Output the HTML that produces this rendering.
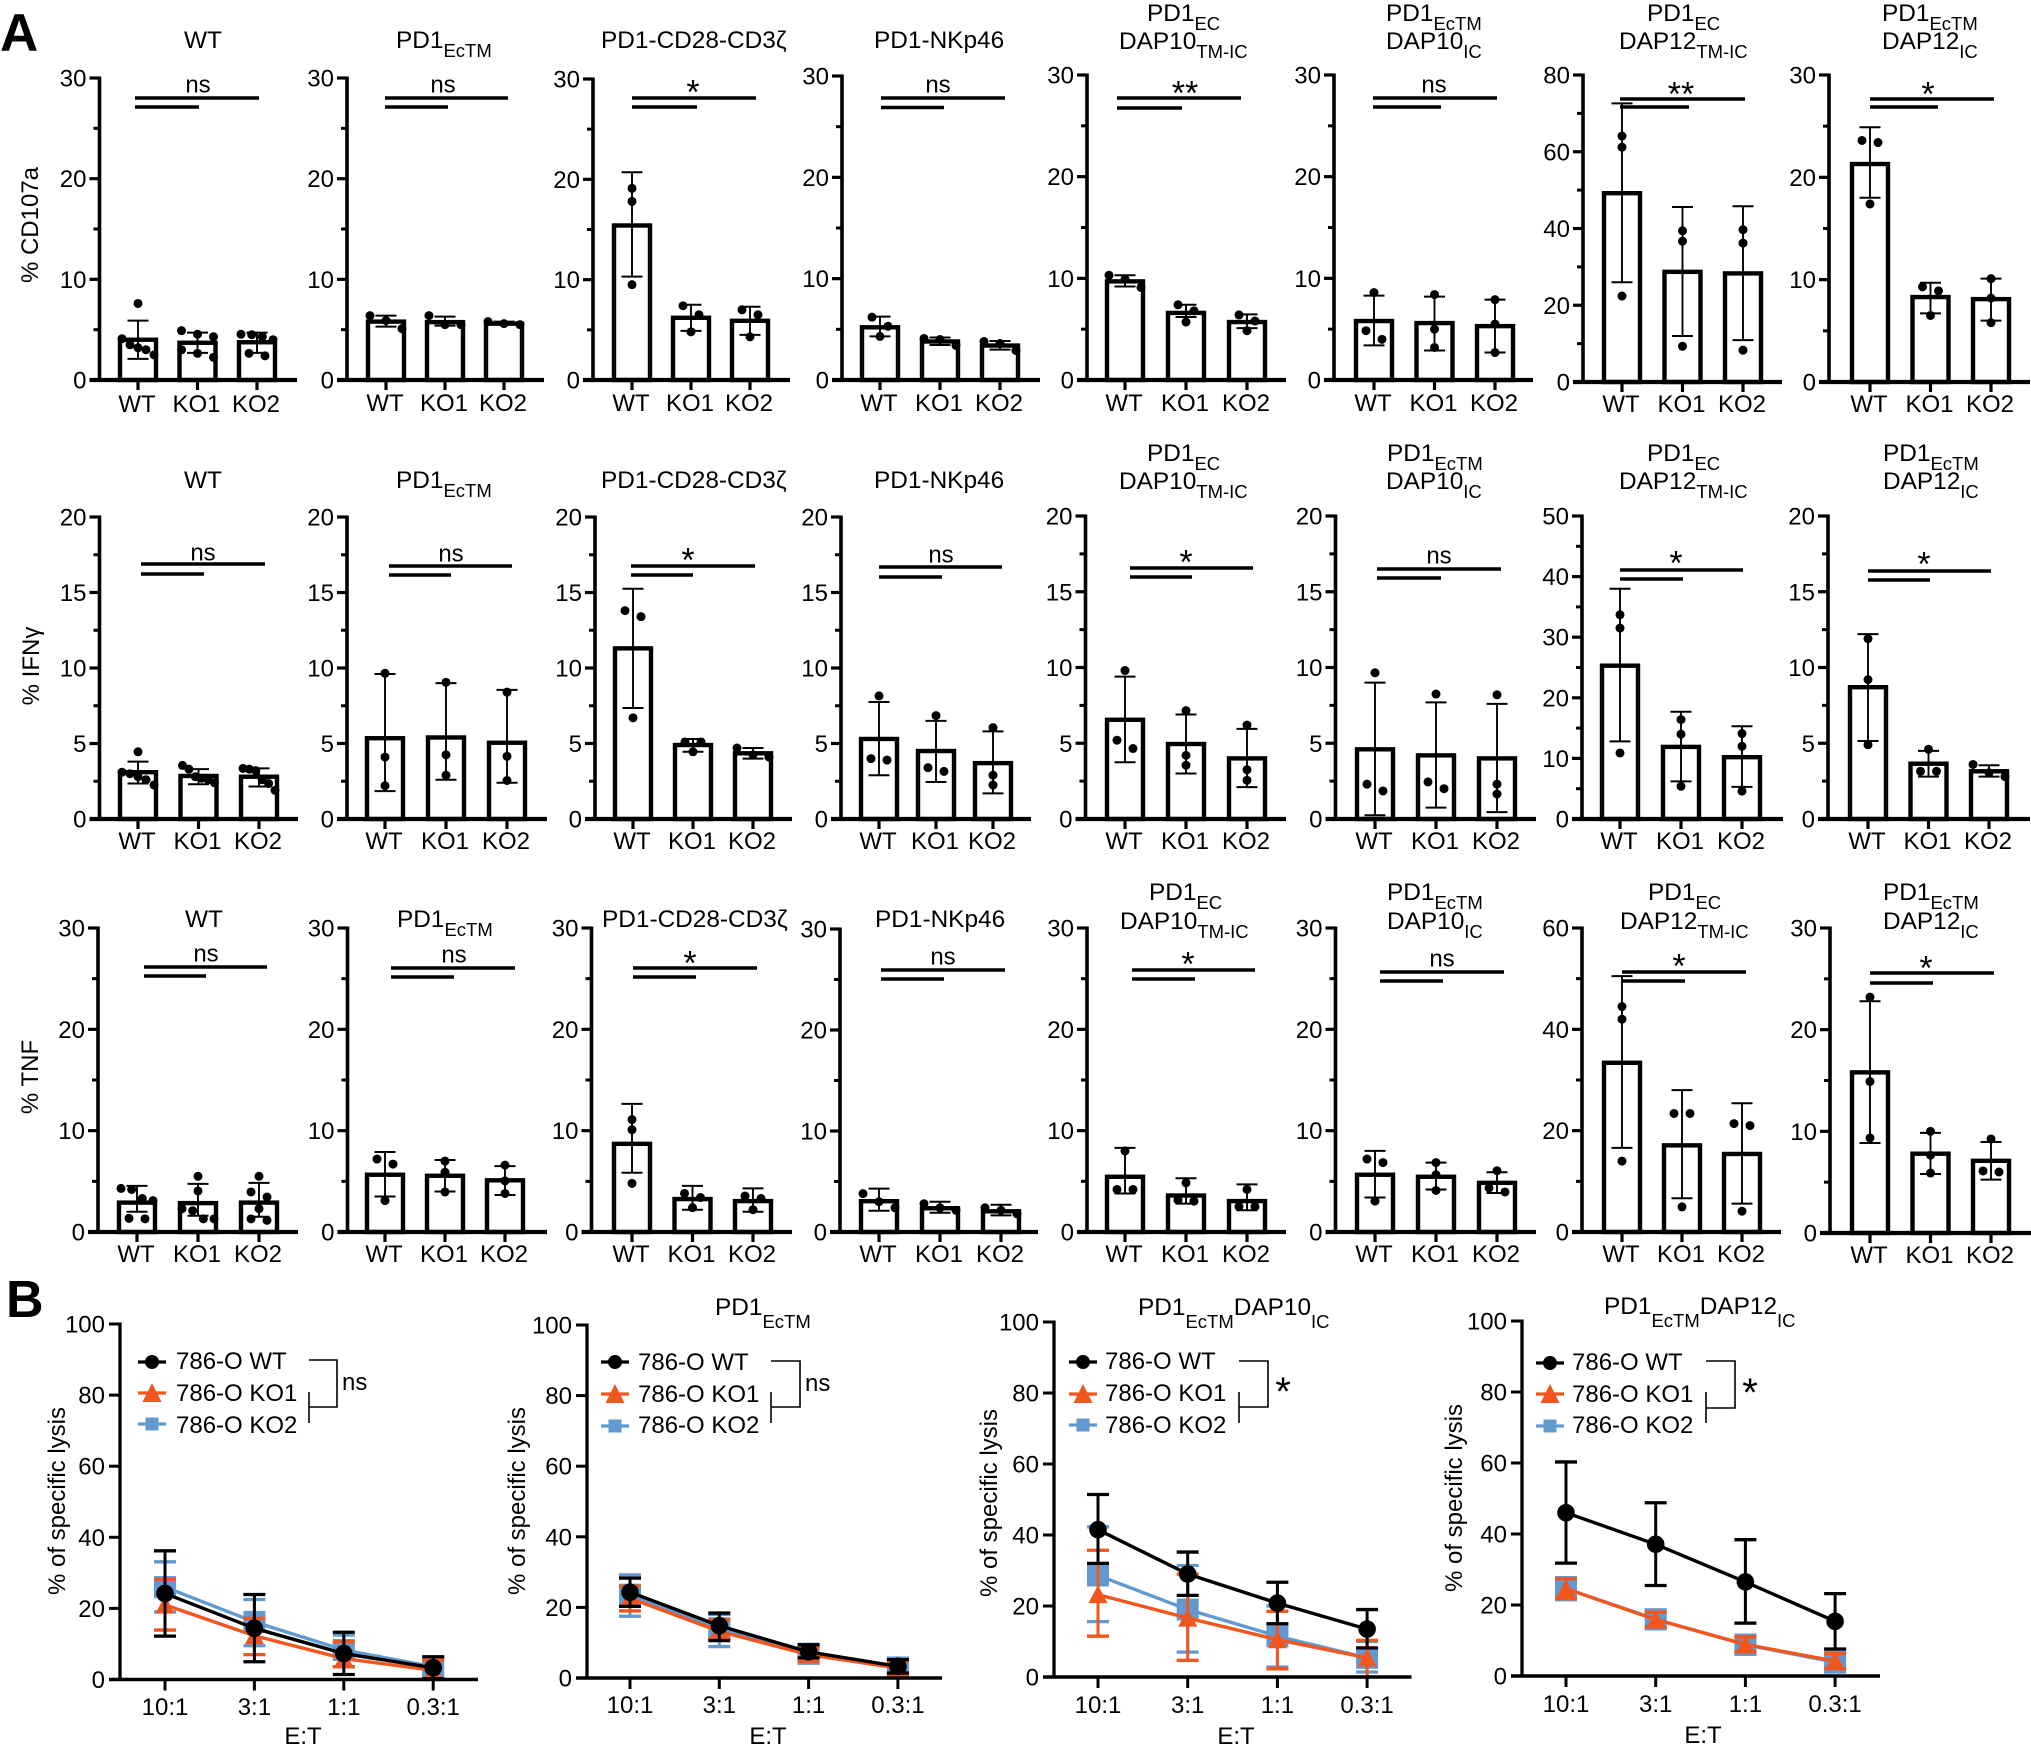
<!DOCTYPE html>
<html lang="en">
<head>
<meta charset="utf-8">
<title>CAR T cell functional assays</title>
<style>
html,body{margin:0;padding:0;background:#fff;}
svg{display:block;font-family:"Liberation Sans",Arial,sans-serif;fill:#000;}
</style>
</head>
<body>
<svg id="figure" xmlns="http://www.w3.org/2000/svg" width="2031" height="1753" viewBox="0 0 2031 1753">
<text x="0" y="51" font-size="53" font-weight="bold">A</text>
<text x="6" y="1317" font-size="52" font-weight="bold">B</text>
<text transform="translate(38,225) rotate(-90)" text-anchor="middle" font-size="24">% CD107a</text>
<text transform="translate(39,666) rotate(-90)" text-anchor="middle" font-size="24">% IFNγ</text>
<text transform="translate(38,1077) rotate(-90)" text-anchor="middle" font-size="24">% TNF</text>
</svg>
<script>
// ---------- Bar chart data (panel A) ----------
const categories = ['WT','KO1','KO2'];

const titles = [
  [[['WT','']]],
  [[['PD1','EcTM']]],
  [[['PD1-CD28-CD3ζ','']]],
  [[['PD1-NKp46','']]],
  [[['PD1','EC']],[['DAP10','TM-IC']]],
  [[['PD1','EcTM']],[['DAP10','IC']]],
  [[['PD1','EC']],[['DAP12','TM-IC']]],
  [[['PD1','EcTM']],[['DAP12','IC']]]
];

const cd107aYMax  = [30,30,30,30,30,30,80,30];
const cd107aYStep = [10,10,10,10,10,10,20,10];
const cd107aSig   = ['ns','ns','*','ns','**','ns','**','*'];
const cd107aMeans = [[4.0,3.7,3.75],[5.8,5.75,5.6],[15.4,6.2,5.9],[5.2,3.8,3.4],[9.7,6.6,5.7],[5.8,5.6,5.3],[49.2,28.7,28.3],[21.3,8.3,8.1]];
const cd107aLow   = [[2.1,2.7,2.7],[5.3,5.4,5.5],[10.3,4.9,4.5],[4.3,3.45,3.0],[9.2,6.2,5.1],[3.4,2.9,2.7],[26,12,10.9],[18,6.7,6.0]];
const cd107aHigh  = [[5.9,4.7,4.7],[6.4,6.3,5.8],[20.7,7.5,7.3],[6.25,4.2,3.85],[10.3,7.4,6.45],[8.3,8.2,7.9],[72.6,45.6,45.8],[24.9,9.7,10.1]];
const cd107aPoints = [
  [[7.6,4.1,3.5,3.2,3.0,2.5],[4.9,4.55,4.3,3.0,2.65,2.25],[4.55,4.5,4.3,4.0,2.65,2.4]],
  [[6.4,5.9,5.1],[6.4,5.5,5.5],[5.8,5.6,5.5]],
  [[19.1,17.8,9.5],[7.4,6.5,4.8],[7.0,6.5,4.3]],
  [[6.2,5.3,4.3],[4.1,4.0,3.4],[3.8,3.6,2.9]],
  [[10.3,9.9,9.1],[7.4,6.8,5.7],[6.4,5.8,4.85]],
  [[8.6,4.85,4.0],[8.4,5.0,3.2],[7.9,5.5,2.7]],
  [[64.1,61.2,22.4],[39.4,36.7,9.3],[39.7,36.2,8.3]],
  [[23.6,23.4,17.4],[9.3,8.9,6.5],[10.1,8.2,5.8]]
];

const ifngYMax  = [20,20,20,20,20,20,50,20];
const ifngYStep = [5,5,5,5,5,5,10,5];
const ifngSig   = ['ns','ns','*','ns','*','ns','*','*'];
const ifngMeans = [[3.1,2.85,2.8],[5.35,5.4,5.05],[11.3,4.9,4.35],[5.3,4.5,3.7],[6.55,4.95,4.0],[4.6,4.2,4.0],[25.3,11.9,10.2],[8.7,3.65,3.15]];
const ifngLow   = [[2.35,2.3,2.15],[1.85,2.6,2.4],[7.35,4.45,4.0],[2.9,2.45,1.7],[3.75,3.0,2.1],[0.25,0.75,0.45],[12.8,6.2,5.3],[5.15,2.8,2.8]];
const ifngHigh  = [[3.8,3.3,3.35],[9.6,9.0,8.55],[15.25,5.3,4.7],[7.75,6.5,5.8],[9.4,6.9,5.95],[9.0,7.7,7.6],[38,17.7,15.3],[12.2,4.5,3.55]];
const ifngPoints = [
  [[4.45,3.1,3.0,2.8,2.6,2.25],[3.55,3.3,2.8,2.7,2.6,2.4],[3.35,3.3,3.2,2.6,2.35,1.9]],
  [[9.65,4.1,2.2],[9.05,4.25,2.9],[8.4,4.15,2.55]],
  [[13.8,13.4,6.7],[5.1,5.1,4.45],[4.7,4.25,4.1]],
  [[8.15,4.0,3.9],[6.85,3.4,3.15],[6.05,2.9,2.25]],
  [[9.8,5.2,4.65],[7.15,4.2,3.55],[6.2,3.25,2.55]],
  [[9.65,2.3,1.85],[8.25,2.45,2.0],[8.2,2.3,1.65]],
  [[33.7,31.5,10.9],[16.4,14,5.4],[14.1,12,4.6]],
  [[11.9,9.2,4.9],[4.6,3.15,3.15],[3.6,3.05,2.8]]
];

const tnfYMax  = [30,30,30,30,30,30,60,30];
const tnfYStep = [10,10,10,10,10,10,20,10];
const tnfSig   = ['ns','ns','*','ns','*','ns','*','*'];
const tnfMeans = [[2.9,2.85,2.9],[5.65,5.55,5.1],[8.7,3.25,3.05],[3.05,2.35,2.05],[5.45,3.6,3.05],[5.65,5.45,4.85],[33.4,17.1,15.4],[15.8,7.8,7.1]];
const tnfLow   = [[2.0,1.6,1.5],[3.5,4.0,3.65],[5.85,2.2,2.0],[2.1,1.9,1.65],[3.8,2.8,2.15],[3.4,4.2,3.85],[16.6,6.65,5.6],[8.85,5.8,5.25]];
const tnfHigh  = [[4.55,4.75,4.85],[7.9,7.1,6.5],[12.65,4.55,4.3],[4.3,3.0,2.7],[8.3,5.3,4.7],[8.0,6.85,5.9],[50.5,28,25.4],[22.8,9.85,8.95]];
const tnfPoints = [
  [[4.3,4.2,3.3,3.1,1.35,1.3],[5.5,4.05,2.3,2.1,1.3,1.3],[5.5,3.95,3.45,2.3,1.3,1.15]],
  [[7.2,6.7,3.1],[7.0,5.9,3.95],[6.6,5.05,3.8]],
  [[11.1,10.1,4.8],[3.8,3.4,2.4],[3.55,3.3,2.2]],
  [[3.8,3.0,2.4],[2.8,2.4,2.15],[2.4,2.15,1.8]],
  [[8.0,4.2,4.2],[4.85,3.15,3.05],[4.2,2.5,2.5]],
  [[7.2,6.85,3.05],[6.85,5.65,4.1],[6.05,4.35,3.95]],
  [[44.5,42,14],[23.4,23.4,4.95],[21.4,21,4.1]],
  [[23.2,14.9,9.35],[10,7.65,5.9],[9.25,6.1,6.0]]
];

// ---------- Line chart data (panel B) ----------
const ratioLabels = ['10:1','3:1','1:1','0.3:1'];
const seriesNames = ['786-O WT','786-O KO1','786-O KO2'];
const lysisYTicks = [0,20,40,60,80,100];
const lysisSig = ['ns','ns','*','*'];
// chart -> [WT, KO1, KO2] -> ratio
const lysisMeans = [
  [[24.2,14.4,7.3,3.3],[21,12.3,5.9,2.6],[26,16.2,8.3,3.6]],
  [[24.3,14.8,7.4,3.3],[22.6,13.2,6.6,2.8],[23.6,14.1,6.9,3.0]],
  [[41.5,29,20.8,13.5],[23.2,16.6,10.5,5.4],[28.6,19,11.5,5.4]],
  [[46,37.1,26.5,15.4],[24.6,15.9,8.9,4.2],[24.6,16,8.8,3.9]]
];
const lysisLow = [
  [[12.2,5,1.4,0.2],[13.9,7,3.6,0],[19,9.5,3.6,1.2]],
  [[20.3,10.6,5.7,1.4],[19,11.3,4.7,1],[17.5,8.9,4.2,0.3]],
  [[32,23,15,8.2],[11.5,4.7,2.3,0],[15.6,7,2.8,1.4]],
  [[31.8,25.5,14.9,7.6],[21.8,13.8,6.8,2.1],[21.5,13.3,6.1,1.1]]
];
const lysisHigh = [
  [[36.2,23.9,13.3,6.4],[28.2,17.2,10.6,5.4],[33.1,22.5,12.5,6.3]],
  [[28.3,18.4,9.4,5.2],[26,16.5,8.5,4.7],[29.2,18,9.4,5.6]],
  [[51.4,35.2,26.7,19],[35.7,29,18.5,10.3],[42.3,31.4,20,10]],
  [[60.3,48.8,38.4,23.2],[27.4,18,11,6.3],[27.7,18.5,11.5,6.8]]
];

// ---------- Helpers ----------
const SVGNS = 'http://www.w3.org/2000/svg';
const svg = document.getElementById('figure');
const BLACK = '#000';
const seriesColors = ['#000000','#F0561D','#6399D1'];

function mk(parent, tag, attrs, text) {
  const n = document.createElementNS(SVGNS, tag);
  for (const k in attrs) n.setAttribute(k, attrs[k]);
  if (text !== undefined) n.textContent = text;
  parent.appendChild(n);
  return n;
}
function ln(parent, x1, y1, x2, y2, w, color) {
  return mk(parent, 'line', {x1:x1, y1:y1, x2:x2, y2:y2, stroke:color || BLACK, 'stroke-width':w});
}
function drawTitle(parent, x, baseline, segs, subDrop, name) {
  const t = mk(parent, 'text', {x:x, y:baseline, 'font-size':24.4});
  
  
  segs.forEach(function (s) {
    mk(t, 'tspan', {}, s[0]);
    if (s[1]) {
      mk(t, 'tspan', {dy:subDrop, 'font-size':18.5}, s[1]);
      mk(t, 'tspan', {dy:-subDrop, 'font-size':24.4}, '\u200b');
    }
  });
  return t;
}
// Swarm: points closer than a dot's height spread sideways around the bar centre.
function swarm(values, yScale) {
  const sorted = values.slice().sort(function (a, b) { return b - a; });
  const out = [];
  let group = [];
  function flush() {
    const n = group.length;
    const spacing = n > 1 ? Math.min(16, 32 / (n - 1)) : 0;
    group.forEach(function (v, i) { out.push({v: v, off: (i - (n - 1) / 2) * spacing}); });
    group = [];
  }
  sorted.forEach(function (v) {
    if (group.length && Math.abs(yScale(v) - yScale(group[group.length - 1])) >= 9.5) flush();
    group.push(v);
  });
  flush();
  return out;
}

// ---------- Bar panel ----------
function drawBarPanel(f, d, idx, measure) {
  const g = mk(svg, 'g', {});
  
  

  const yMax = d.yMax[idx], step = d.yStep[idx];
  const yScale = function (v) { return f.bot - (v / yMax) * (f.bot - f.top); };
  const xScale = function (i) { return f.x0 + i * f.dx; };

  // title
  titles[idx].forEach(function (line, li) {
    const many = titles[idx].length > 1;
    const bl = many ? (li === 0 ? f.t1 : f.t2) : f.t0;
    const tx = many ? f.tx[li] : f.tx[0];
    drawTitle(g, tx, bl, line[0] ? line : [], 9, measure + '-title-' + (idx + 1) + '-line-' + (li + 1));
  });

  // bars, errors, dots
  categories.forEach(function (c, i) {
    const cx = xScale(i);
    const v = d.means[idx][i];
    const bar = mk(g, 'rect', {x:cx - 18, y:yScale(v), width:36, height:f.bot - yScale(v), fill:'#fff', stroke:BLACK, 'stroke-width':4.4});
    
    

    const eb = mk(g, 'g', {});
    
    
    const hi = yScale(d.high[idx][i]), lo = yScale(d.low[idx][i]);
    ln(eb, cx, hi, cx, lo, 1.9);
    ln(eb, cx - 10.5, hi, cx + 10.5, hi, 2);
    ln(eb, cx - 10.5, lo, cx + 10.5, lo, 2);

    swarm(d.points[idx][i], yScale).forEach(function (p) {
      const dot = mk(g, 'circle', {cx:cx + p.off, cy:yScale(p.v), r:4.5, fill:BLACK});
      
      
    });
  });

  // y axis
  const ya = mk(g, 'g', {});
  
  
  ln(ya, f.ax, f.top - 1.5, f.ax, f.bot, 3.6);
  for (let v = 0; v <= yMax + 1e-6; v += step) {
    const y = yScale(v);
    ln(ya, f.ax - 10, y, f.ax, y, 3.2);
    const lab = mk(ya, 'text', {x:f.ax - 13, y:y + 8.5, 'text-anchor':'end', 'font-size':24}, String(v));
    
    
    if (v < yMax) ln(ya, f.ax - 6, yScale(v + step / 2), f.ax, yScale(v + step / 2), 3);
  }

  // x axis
  const xa = mk(g, 'g', {});
  
  
  ln(xa, f.ax - 10, f.bot, f.end, f.bot, 4.2);
  categories.forEach(function (c, i) {
    const cx = xScale(i);
    ln(xa, cx, f.bot, cx, f.bot + 10, 3.2);
    const lab = mk(xa, 'text', {x:cx - 1, y:f.bot + f.xl, 'text-anchor':'middle', 'font-size':24}, c);
    
    
  });

  // significance
  const sg = mk(g, 'g', {});
  
  
  ln(sg, f.s[0], f.s[3], f.s[1], f.s[3], 3.5);
  ln(sg, f.s[0], f.s[4], f.s[2], f.s[4], 3.5);
  const mark = d.sig[idx];
  if (mark === 'ns') {
    mk(sg, 'text', {x:f.s[5], y:f.s[6] + 7.5, 'text-anchor':'middle', 'font-size':24}, mark);
  } else {
    mk(sg, 'text', {x:f.s[5], y:f.s[6] + 16.5, 'text-anchor':'middle', 'font-size':34}, mark);
  }
}

const cd107aData = {yMax:cd107aYMax, yStep:cd107aYStep, sig:cd107aSig, means:cd107aMeans, low:cd107aLow, high:cd107aHigh, points:cd107aPoints};
const ifngData   = {yMax:ifngYMax, yStep:ifngYStep, sig:ifngSig, means:ifngMeans, low:ifngLow, high:ifngHigh, points:ifngPoints};
const tnfData    = {yMax:tnfYMax, yStep:tnfYStep, sig:tnfSig, means:tnfMeans, low:tnfLow, high:tnfHigh, points:tnfPoints};

// Panel frames (layout only)
drawBarPanel({ax:99.5,top:78,bot:380,end:297,x0:138,dx:59.5,xl:32,t0:48,t1:21,t2:49,tx:[184],s:[135,259,199,98,107,198,85]}, cd107aData, 0, 'cd107a');
drawBarPanel({ax:347,top:78,bot:380,end:544,x0:386,dx:59,xl:31,t0:48,t1:21,t2:49,tx:[396],s:[385,508,448,98,107,443,85]}, cd107aData, 1, 'cd107a');
drawBarPanel({ax:593,top:79,bot:380,end:790,x0:632,dx:59,xl:31,t0:48,t1:21,t2:49,tx:[601],s:[632,756,697,98,107,693,87]}, cd107aData, 2, 'cd107a');
drawBarPanel({ax:842,top:76,bot:380,end:1040,x0:880,dx:60,xl:31,t0:48,t1:21,t2:49,tx:[874],s:[881,1005,944,98,107.5,938,85]}, cd107aData, 3, 'cd107a');
drawBarPanel({ax:1087,top:75,bot:380,end:1286,x0:1125,dx:61,xl:31,t0:48,t1:21,t2:49,tx:[1147,1119],s:[1117,1241,1182,98,108,1185,88]}, cd107aData, 4, 'cd107a');
drawBarPanel({ax:1334,top:75,bot:380,end:1533,x0:1374,dx:60.5,xl:31,t0:48,t1:21,t2:49,tx:[1386,1386],s:[1373,1497,1441,98,107,1434,85]}, cd107aData, 5, 'cd107a');
drawBarPanel({ax:1583,top:75,bot:382,end:1782,x0:1622,dx:60.5,xl:30,t0:48,t1:21,t2:49,tx:[1647,1619],s:[1620,1745,1689,99,107,1681,89]}, cd107aData, 6, 'cd107a');
drawBarPanel({ax:1829,top:75,bot:382,end:2030,x0:1870,dx:60.5,xl:30,t0:48,t1:21,t2:49,tx:[1882,1882],s:[1870,1994,1938,99,107,1928,89]}, cd107aData, 7, 'cd107a');

drawBarPanel({ax:99.5,top:517,bot:819,end:298,x0:138,dx:60.5,xl:30,t0:488,t1:461,t2:489,tx:[184],s:[141,265,204,564,574,203,553]}, ifngData, 0, 'ifng');
drawBarPanel({ax:347,top:517,bot:819,end:547,x0:385,dx:61,xl:30,t0:488,t1:461,t2:489,tx:[396],s:[389,512,451,566,575,451,554]}, ifngData, 1, 'ifng');
drawBarPanel({ax:595,top:517,bot:819,end:792,x0:633,dx:60,xl:30,t0:488,t1:461,t2:489,tx:[601],s:[631,755,693,566,575,688,555]}, ifngData, 2, 'ifng');
drawBarPanel({ax:841,top:517,bot:819,end:1031,x0:879,dx:57,xl:30,t0:488,t1:461,t2:489,tx:[874],s:[879,1002,942,567,577,941,555]}, ifngData, 3, 'ifng');
drawBarPanel({ax:1085.5,top:516,bot:819,end:1286,x0:1125,dx:61,xl:30,t0:488,t1:461,t2:489,tx:[1147,1119],s:[1130,1253,1192,568,577,1186,557]}, ifngData, 4, 'ifng');
drawBarPanel({ax:1335.5,top:516,bot:819,end:1536,x0:1375,dx:61,xl:30,t0:488,t1:461,t2:489,tx:[1387,1386],s:[1377,1501,1441,569,578,1439,556]}, ifngData, 5, 'ifng');
drawBarPanel({ax:1582,top:516,bot:819,end:1783,x0:1620,dx:61,xl:30,t0:488,t1:461,t2:489,tx:[1647,1619],s:[1620,1743,1683,570,579,1676,558]}, ifngData, 6, 'ifng');
drawBarPanel({ax:1828,top:516,bot:819,end:2030,x0:1868,dx:60.5,xl:30,t0:488,t1:461,t2:489,tx:[1883,1883],s:[1868,1991,1930,571,580,1924,559]}, ifngData, 7, 'ifng');

drawBarPanel({ax:98,top:928,bot:1232,end:298,x0:137,dx:61,xl:30,t0:927,t1:900,t2:929,tx:[185],s:[144,267,206,967,976,206,954]}, tnfData, 0, 'tnf');
drawBarPanel({ax:347.5,top:928,bot:1232,end:547,x0:385,dx:60,xl:30,t0:927,t1:900,t2:929,tx:[397],s:[391,515,454,968,977,454,955]}, tnfData, 1, 'tnf');
drawBarPanel({ax:591.5,top:928,bot:1232,end:792,x0:632,dx:60.5,xl:30,t0:927,t1:900,t2:929,tx:[602],s:[633,757,696,968,977,690,958]}, tnfData, 2, 'tnf');
drawBarPanel({ax:840,top:929,bot:1232,end:1038,x0:879,dx:61,xl:30,t0:927,t1:900,t2:929,tx:[875],s:[881,1005,944,970,979,943,957]}, tnfData, 3, 'tnf');
drawBarPanel({ax:1087,top:928,bot:1232,end:1286,x0:1125,dx:61,xl:30,t0:927,t1:900,t2:929,tx:[1149,1120],s:[1132,1255,1195,970,979,1188,959]}, tnfData, 4, 'tnf');
drawBarPanel({ax:1335.5,top:928,bot:1232,end:1536,x0:1375,dx:61,xl:30,t0:927,t1:900,t2:929,tx:[1387,1387],s:[1380,1504,1443,972,981,1442,959]}, tnfData, 5, 'tnf');
drawBarPanel({ax:1582,top:928,bot:1232,end:1781,x0:1622,dx:60,xl:30,t0:927,t1:900,t2:929,tx:[1648,1620],s:[1622,1746,1685,972,981,1679,961]}, tnfData, 6, 'tnf');
drawBarPanel({ax:1830,top:928,bot:1233,end:2031,x0:1870,dx:60.5,xl:30,t0:927,t1:900,t2:929,tx:[1883,1883],s:[1870,1994,1933,973,983,1926,963]}, tnfData, 7, 'tnf');

// ---------- Line panel ----------
function drawMarker(parent, s, x, y, big) {
  const color = seriesColors[s];
  if (s === 0) return mk(parent, 'circle', {cx:x, cy:y, r:big ? 8.8 : 7, fill:color});
  if (s === 1) {
    const hw = big ? 9.5 : 9.5, hh = big ? 8.5 : 9;
    return mk(parent, 'polygon', {points:(x - hw) + ',' + (y + hh) + ' ' + (x + hw) + ',' + (y + hh) + ' ' + x + ',' + (y - hh - 1), fill:color});
  }
  const a = big ? 11 : 6.5;
  return mk(parent, 'rect', {x:x - a, y:y - a, width:2 * a, height:2 * a, fill:color});
}

function drawLysis(f, idx) {
  const g = mk(svg, 'g', {});
  
  

  const yScale = function (v) { return f.bot - (v / 100) * (f.bot - f.top); };
  const xScale = function (i) { return f.x0 + i * f.dx; };

  if (f.title) drawTitle(g, f.title[0], f.title[1], f.title[2], f.title[3], 'lysis-title-' + (idx + 1));

  // series (KO2 first, WT last on top)
  [2, 1, 0].forEach(function (s) {
    const sg = mk(g, 'g', {});
    
    
    const color = seriesColors[s];
    ratioLabels.forEach(function (r, i) {
      const cx = xScale(i);
      const hi = yScale(lysisHigh[idx][s][i]), lo = yScale(lysisLow[idx][s][i]);
      ln(sg, cx, hi, cx, lo, 3, color);
      ln(sg, cx - 11, hi, cx + 11, hi, 3.3, color);
      ln(sg, cx - 11, lo, cx + 11, lo, 3.3, color);
    });
    const pts = ratioLabels.map(function (r, i) { return xScale(i) + ',' + yScale(lysisMeans[idx][s][i]); }).join(' ');
    mk(sg, 'polyline', {points:pts, fill:'none', stroke:color, 'stroke-width':3.4});
    ratioLabels.forEach(function (r, i) {
      drawMarker(sg, s, xScale(i), yScale(lysisMeans[idx][s][i]), true);
    });
  });

  // y axis
  const ya = mk(g, 'g', {});
  
  
  ln(ya, f.ax, f.top - 1.5, f.ax, f.bot, 3.3);
  lysisYTicks.forEach(function (v) {
    const y = yScale(v);
    ln(ya, f.ax - 11, y, f.ax, y, 3);
    const lab = mk(ya, 'text', {x:f.ax - 15, y:y + 8.5, 'text-anchor':'end', 'font-size':24}, String(v));
    
    
  });
  const yt = mk(ya, 'text', {transform:'translate(' + f.yl[0] + ',' + f.yl[1] + ') rotate(-90)', 'text-anchor':'middle', 'font-size':24}, '% of specific lysis');
  
  

  // x axis
  const xa = mk(g, 'g', {});
  
  
  ln(xa, f.ax - 11, f.bot, f.end, f.bot, 3.6);
  ratioLabels.forEach(function (r, i) {
    ln(xa, xScale(i), f.bot, xScale(i), f.bot + 11, 3);
    const lab = mk(xa, 'text', {x:xScale(i), y:f.xlY, 'text-anchor':'middle', 'font-size':24}, r);
    
    
  });
  const xt = mk(xa, 'text', {x:f.xt[0], y:f.xt[1], 'text-anchor':'middle', 'font-size':24}, 'E:T');
  
  

  // legend
  seriesNames.forEach(function (name, s) {
    const le = mk(g, 'g', {});
    
    
    const y = f.legY[s];
    ln(le, f.legX - 14, y, f.legX + 14, y, 3.3, seriesColors[s]);
    drawMarker(le, s, f.legX, y, false);
    mk(le, 'text', {x:f.legT, y:f.legB[s], 'font-size':24}, name);
  });

  // significance bracket
  const b = mk(g, 'g', {});
  
  
  const k = f.br;
  mk(b, 'polyline', {points:k[0] + ',' + k[2] + ' ' + k[1] + ',' + k[2] + ' ' + k[1] + ',' + k[3] + ' ' + k[0] + ',' + k[3], fill:'none', stroke:BLACK, 'stroke-width':1.6});
  ln(b, k[0], k[4], k[0], k[5], 1.6);
  const mark = lysisSig[idx];
  if (mark === 'ns') mk(b, 'text', {x:f.sigX, y:f.sigY, 'font-size':24}, mark);
  else mk(b, 'text', {x:f.sigX, y:f.sigY + 20, 'text-anchor':'middle', 'font-size':40}, mark);
}

drawLysis({ax:120,top:1324,bot:1679.5,end:478,x0:165,dx:89.4,xlY:1715,xt:[303,1744],yl:[65,1501],legX:152,legT:176,legY:[1362,1393,1424],legB:[1369,1401,1433],br:[309,337,1360,1407,1392,1423],sigX:342,sigY:1390}, 0);
drawLysis({ax:587,top:1325,bot:1678,end:942,x0:630,dx:89.3,xlY:1713,xt:[768,1744],yl:[525,1501],legX:615,legT:638,legY:[1362,1394,1426],legB:[1370,1402,1433],br:[771,800,1361,1407,1392,1423],sigX:805,sigY:1391,
  title:[715,1315,[['PD1','EcTM']],13]}, 1);
drawLysis({ax:1054,top:1322,bot:1677,end:1411.5,x0:1098,dx:89.7,xlY:1713,xt:[1236,1744],yl:[997,1503],legX:1083,legT:1105,legY:[1362,1394,1425],legB:[1369,1401,1433],br:[1239,1268,1361,1407,1392,1423],sigX:1283,sigY:1385,
  title:[1138,1315,[['PD1','EcTM'],['DAP10','IC']],13]}, 2);
drawLysis({ax:1522,top:1321,bot:1676,end:1880,x0:1566,dx:89.7,xlY:1712,xt:[1703,1743],yl:[1462,1498],legX:1550,legT:1572,legY:[1363,1394,1426],legB:[1370,1402,1433],br:[1706,1735,1361,1408,1392,1423],sigX:1750,sigY:1386,
  title:[1604,1314,[['PD1','EcTM'],['DAP12','IC']],13]}, 3);
</script>
</body>
</html>
